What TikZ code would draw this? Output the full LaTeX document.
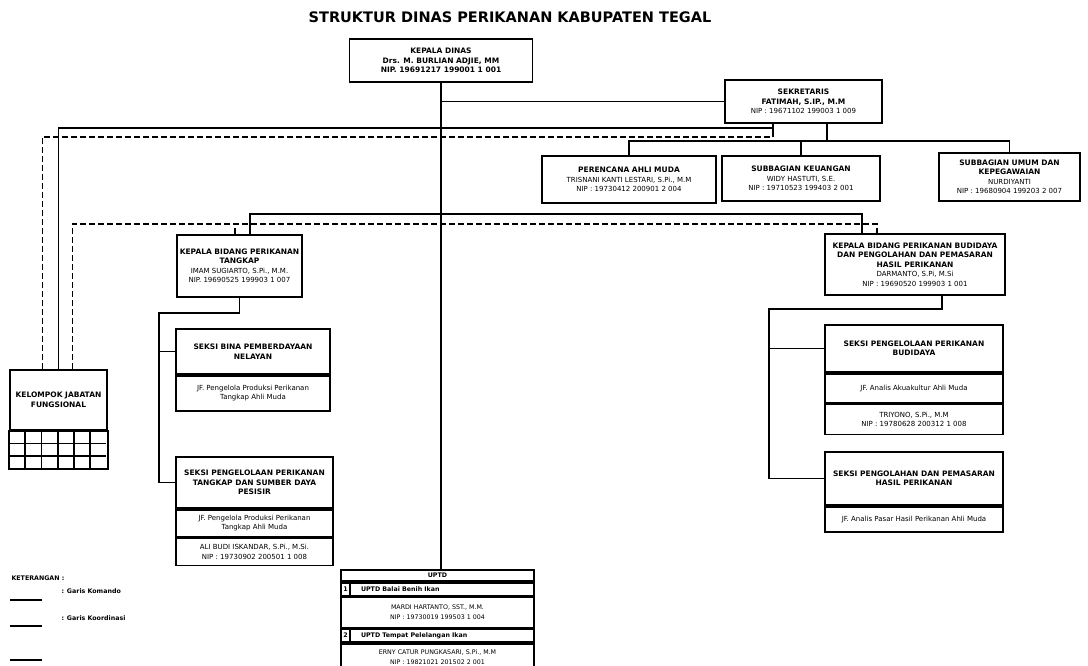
\documentclass[tikz,border=0pt]{standalone}
\usepackage{fontspec}
\setmainfont{DejaVu Sans}
\usetikzlibrary{positioning}

\newcommand{\judul}{\fontsize{7.5}{9.5}\selectfont\bfseries}
\newcommand{\jf}{\fontsize{7}{9}\selectfont}
\newcommand{\kecil}{\fontsize{6.3}{7.8}\selectfont}

\tikzset{
  unit/.style={draw, line width=1.7pt, align=center, inner sep=1pt, font=\fontsize{7}{9.5}\selectfont},
  komando/.style={line width=1.9pt},
  koordinasi/.style={line width=1.9pt, dash pattern=on 6pt off 3pt},
}

\begin{document}
\begin{tikzpicture}[x=1pt, y=-1pt]
    \fill[white] (0,0) rectangle (1088,666);
    \useasboundingbox (0,0) rectangle (1088,666);

    \node[font=\fontsize{14.5}{17}\selectfont\bfseries] (judul) at (510,17) {STRUKTUR DINAS PERIKANAN KABUPATEN TEGAL};

    % pimpinan dan sekretariat
    \node[unit, minimum width=183pt, minimum height=43pt] (kadis) at (441,60.5) {\judul KEPALA DINAS\\ \judul Drs. M. BURLIAN ADJIE, MM\\ \judul NIP. 19691217 199001 1 001};
    \node[unit, minimum width=157pt, minimum height=43pt] (sekretaris) at (803.5,101.5) {\judul SEKRETARIS\\ \judul FATIMAH, S.IP., M.M\\ NIP : 19671102 199003 1 009};
    \node[unit, minimum width=174pt, minimum height=47pt] (perencana) at (629,179.5) {\judul PERENCANA AHLI MUDA\\ TRISNANI KANTI LESTARI, S.Pi., M.M\\ NIP : 19730412 200901 2 004};
    \node[unit, minimum width=158pt, minimum height=45pt] (keuangan) at (801,178.5) {\judul SUBBAGIAN KEUANGAN\\ WIDY HASTUTI, S.E.\\ NIP : 19710523 199403 2 001};
    \node[unit, minimum width=141pt, minimum height=48pt] (umum) at (1009.5,177) {\judul SUBBAGIAN UMUM DAN\\ \judul KEPEGAWAIAN\\ NURDIYANTI\\ NIP : 19680904 199203 2 007};

    % bidang
    \node[unit, minimum width=125pt, minimum height=62pt] (kabidtangkap) at (239.5,266) {\judul KEPALA BIDANG PERIKANAN\\ \judul TANGKAP\\ IMAM SUGIARTO, S.Pi., M.M.\\ NIP. 19690525 199903 1 007};
    \node[unit, minimum width=180pt, minimum height=61pt] (kabidbudidaya) at (915,264.5) {\judul KEPALA BIDANG PERIKANAN BUDIDAYA\\ \judul DAN PENGOLAHAN DAN PEMASARAN\\ \judul HASIL PERIKANAN\\ DARMANTO, S.Pi, M.Si\\ NIP : 19690520 199903 1 001};

    % seksi bidang tangkap
    \node[unit, minimum width=154pt, minimum height=45pt] (bina) at (253,351.5) {\judul SEKSI BINA PEMBERDAYAAN\\ \judul NELAYAN};
    \node[unit, minimum width=154pt, minimum height=35pt, below=0pt of bina] (binajf) {\jf JF. Pengelola Produksi Perikanan\\ \jf Tangkap Ahli Muda};
    \node[unit, minimum width=157pt, minimum height=51pt] (sdp) at (254.5,482.5) {\judul SEKSI PENGELOLAAN PERIKANAN\\ \judul TANGKAP DAN SUMBER DAYA\\ \judul PESISIR};
    \node[unit, minimum width=157pt, minimum height=27pt, below=0pt of sdp] (sdpjf) {\jf JF. Pengelola Produksi Perikanan\\ \jf Tangkap Ahli Muda};
    \node[unit, minimum width=157pt, minimum height=27pt, below=0pt of sdpjf] (sdppj) {\jf ALI BUDI ISKANDAR, S.Pi., M.Si.\\ \jf NIP : 19730902 200501 1 008};

    % seksi bidang budidaya
    \node[unit, minimum width=178pt, minimum height=47pt] (sbudidaya) at (914,348.5) {\judul SEKSI PENGELOLAAN PERIKANAN\\ \judul BUDIDAYA};
    \node[unit, minimum width=178pt, minimum height=29pt, below=0pt of sbudidaya] (sbudjf) {\jf JF. Analis Akuakultur Ahli Muda};
    \node[unit, minimum width=178pt, minimum height=30pt, below=0pt of sbudjf] (sbudpj) {\jf TRIYONO, S.Pi., M.M\\ \jf NIP : 19780628 200312 1 008};
    \node[unit, minimum width=178pt, minimum height=53pt] (spengolahan) at (914,478.5) {\judul SEKSI PENGOLAHAN DAN PEMASARAN\\ \judul HASIL PERIKANAN};
    \node[unit, minimum width=178pt, minimum height=25pt, below=0pt of spengolahan] (spengjf) {\jf JF. Analis Pasar Hasil Perikanan Ahli Muda};

    % uptd
    \node[unit, minimum width=193pt, minimum height=11pt, font=\kecil\bfseries] (uptd) at (437.5,575.5) {UPTD};
    \node[unit, minimum width=193pt, minimum height=13pt, text width=177pt, align=left, font=\kecil\bfseries, below=0pt of uptd] (upt1) {\hspace*{12pt}UPTD Balai Benih Ikan};
    \node[unit, minimum width=9pt, minimum height=13pt, font=\kecil\bfseries, anchor=west] (no1) at (upt1.west) {1};
    \node[unit, minimum width=193pt, minimum height=30pt, below=0pt of upt1] (upt1pj) {\kecil MARDI HARTANTO, SST., M.M.\\ \kecil NIP : 19730019 199503 1 004};
    \node[unit, minimum width=193pt, minimum height=13pt, text width=177pt, align=left, font=\kecil\bfseries, below=0pt of upt1pj] (upt2) {\hspace*{12pt}UPTD Tempat Pelelangan Ikan};
    \node[unit, minimum width=9pt, minimum height=13pt, font=\kecil\bfseries, anchor=west] (no2) at (upt2.west) {2};
    \node[unit, minimum width=193pt, minimum height=27pt, below=0pt of upt2] (upt2pj) {\kecil ERNY CATUR PUNGKASARI, S.Pi., M.M\\ \kecil NIP : 19821021 201502 2 001};

    % kelompok jabatan fungsional
    \node[unit, minimum width=97pt, minimum height=60pt] (kjf) at (58.5,400) {\judul KELOMPOK JABATAN\\ \judul FUNGSIONAL};
    \draw[komando] (kjf.south west) rectangle ([yshift=-38pt]kjf.south east);
    \foreach \k in {1,...,5}
        \draw[komando] ([xshift=\k*16.17pt]kjf.south west) -- ++(0,38);
    \foreach \b in {1,2}
        \draw[komando] ([yshift=-\b*12.67pt]kjf.south west) -- ++(97,0);

    % garis komando dan koordinasi
    \coordinate (kom1) at (773,128);
    \coordinate (kor1) at (773,137);
    \coordinate (bagi) at (827,141);
    \coordinate (bid) at (441,214);
    \coordinate (korbid) at (877,224);

    \draw[komando] (kadis.south) -- (kadis.south |- uptd.north); % garis utama
    \draw[komando] (kadis.south |- sekretaris.west) -- (sekretaris.west);
    \draw[komando] (sekretaris.south -| kor1) -- (kor1);
    \draw[komando] (kjf.north) |- (kom1);
    \draw[koordinasi] ([xshift=-16pt]kjf.north) |- (kor1);
    \draw[komando] (sekretaris.south -| bagi) -- (bagi);
    \draw[komando] (perencana.north) |- (bagi) -| (umum.north);
    \draw[komando] (keuangan.north) -- (keuangan.north |- bagi);

    \draw[komando] ([xshift=10.5pt]kabidtangkap.north) |- (bid) -| ([xshift=-53pt]kabidbudidaya.north);
    \draw[koordinasi] ([xshift=14pt]kjf.north) |- (korbid) -- (korbid |- kabidbudidaya.north);
    \draw[koordinasi] ([xshift=-4.5pt]kabidtangkap.north) -- ([xshift=-4.5pt]kabidtangkap.north |- korbid);

    \draw[komando] (kabidtangkap.south) -- ++(0,15) -| ([xshift=-16pt]sdp.west) -- (sdp.west);
    \draw[komando] (bina.west) -- ++(-16,0);
    \draw[komando] ([xshift=27pt]kabidbudidaya.south) -- ++(0,13) -| ([xshift=-55pt]spengolahan.west) -- (spengolahan.west);
    \draw[komando] (sbudidaya.west) -- ++(-55,0);

    % keterangan
    \node[font=\fontsize{6.3}{7.5}\selectfont\bfseries, anchor=west] (ket) at (8,578) {KETERANGAN :};
    \node[font=\fontsize{6.3}{7.5}\selectfont\bfseries, anchor=west] (lkom) at (58,591) {: Garis Komando};
    \node[font=\fontsize{6.3}{7.5}\selectfont\bfseries, anchor=west] (lkor) at (58,618) {: Garis Koordinasi};
    \draw[line width=1.3pt] ([shift={(-48,9)}]lkom.west) -- ++(32,0);
    \draw[line width=1.3pt] ([shift={(-48,8)}]lkor.west) -- ++(32,0);
    \draw[line width=1.3pt] ([shift={(-48,42)}]lkor.west) -- ++(32,0);
\end{tikzpicture}
\end{document}
